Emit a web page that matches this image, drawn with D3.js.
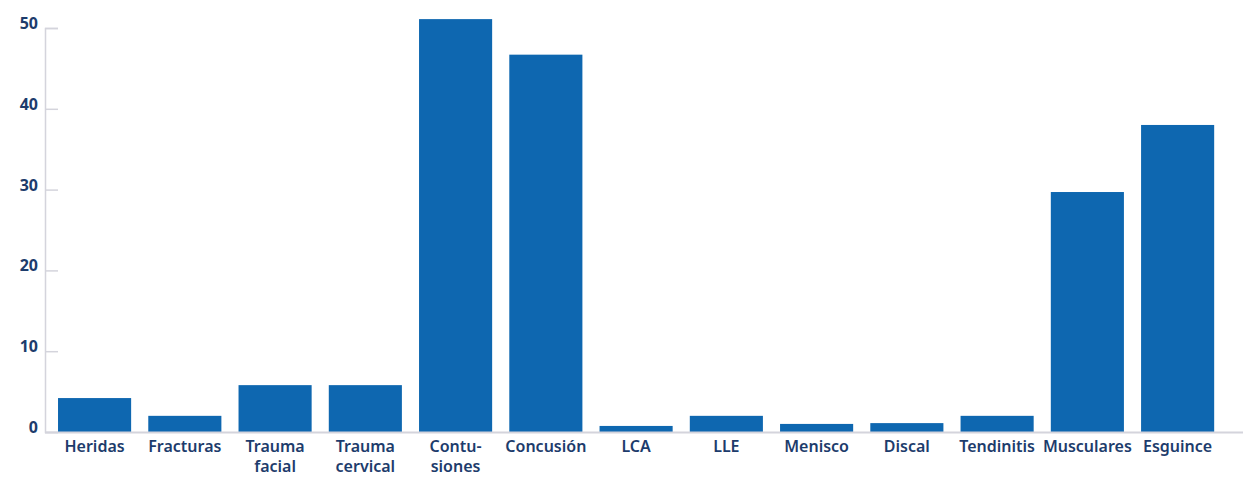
<!DOCTYPE html>
<html>
<head>
<meta charset="utf-8">
<script src="https://cdn.jsdelivr.net/npm/d3@7"></script>
<style>
  html, body { margin: 0; padding: 0; background: #fff; }
  svg { display: block; }
  text { font-family: "Noto Sans", "Open Sans", sans-serif; }
</style>
</head>
<body>
<svg id="chart" width="1243" height="477"></svg>
<script>
// Injury categories (each label split into display lines)
const categories = [
  ["Heridas"], ["Fracturas"], ["Trauma", "facial"], ["Trauma", "cervical"],
  ["Contu-", "siones"], ["Concusión"], ["LCA"], ["LLE"], ["Menisco"],
  ["Discal"], ["Tendinitis"], ["Musculares"], ["Esguince"]
];
const values = [4.2, 2.0, 5.8, 5.8, 51.1, 46.7, 0.75, 2.0, 1.0, 1.1, 2.0, 29.7, 38.0];
const yTicks = [0, 10, 20, 30, 40, 50];

const svg = d3.select("#chart");
const barColor = "#0e67b0";
const textColor = "#1d3c6c";
const axisColor = "#d4d4dc";

const keys = categories.map(c => c.join(" "));
const x = d3.scaleBand().domain(keys).range([49, 1223.2]).paddingInner(0.19).paddingOuter(0.1);
const y = d3.scaleLinear().domain([0, 50]).range([432, 28]);

// bars
svg.append("g").selectAll("rect")
  .data(values)
  .join("rect")
  .attr("x", (d, i) => x(keys[i]))
  .attr("width", x.bandwidth())
  .attr("y", d => y(d))
  .attr("height", d => y(0) - y(d))
  .attr("fill", barColor);

// y axis: vertical line with short inward ticks
const yAxis = d3.axisRight(y).tickValues(yTicks).tickSize(13).tickFormat("");
const gy = svg.append("g").attr("transform", "translate(45,0)").call(yAxis);
gy.select(".domain").attr("stroke", axisColor).attr("stroke-width", 1.5);
gy.selectAll(".tick line").attr("stroke", axisColor).attr("stroke-width", 1.5);

// tick labels sit slightly above their tick
svg.append("g").selectAll("text")
  .data(yTicks)
  .join("text")
  .attr("x", 38)
  .attr("y", d => y(d) - 5)
  .attr("text-anchor", "end")
  .attr("dominant-baseline", "central")
  .attr("fill", textColor)
  .attr("font-size", 16)
  .attr("font-weight", 700)
  .text(d => d);

// baseline
svg.append("line")
  .attr("x1", 45).attr("x2", 1243)
  .attr("y1", y(0) + 0.5).attr("y2", y(0) + 0.5)
  .attr("stroke", axisColor).attr("stroke-width", 2);

// category labels
const xLabels = svg.append("g").selectAll("text")
  .data(categories)
  .join("text")
  .attr("x", (d, i) => x(keys[i]) + x.bandwidth() / 2)
  .attr("y", 452)
  .attr("text-anchor", "middle")
  .attr("fill", textColor)
  .attr("font-size", 16)
  .attr("font-weight", 600);
xLabels.selectAll("tspan")
  .data(d => d)
  .join("tspan")
  .attr("x", function () { return d3.select(this.parentNode).attr("x"); })
  .attr("dy", (d, i) => i === 0 ? 0 : 20)
  .text(d => d);
</script>
</body>
</html>
